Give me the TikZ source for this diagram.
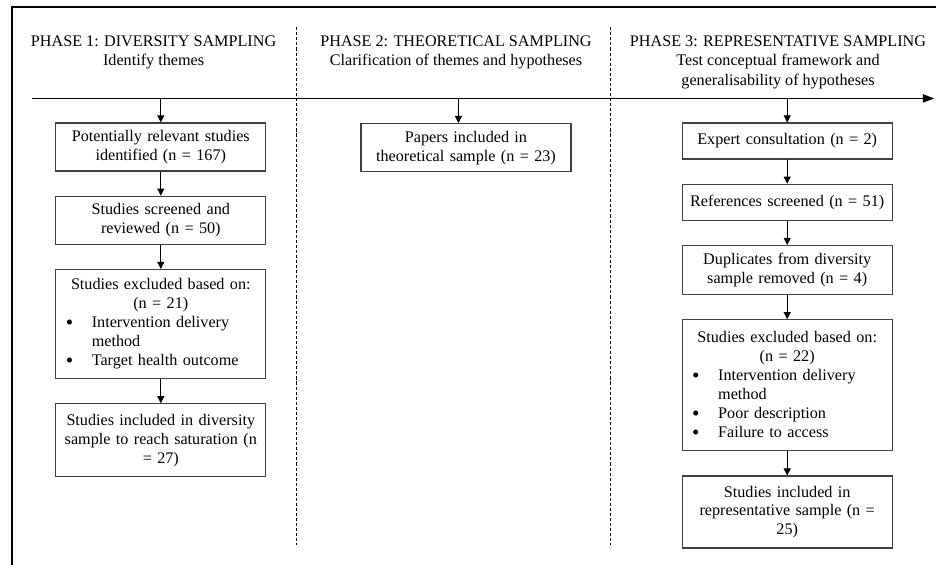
\documentclass[tikz,border=0pt]{standalone}
\usepackage{fontspec}
\setmainfont{Liberation Serif}
\usetikzlibrary{positioning,arrows.meta}

\newcommand{\bmark}{\makebox[0.75cm][l]{\hspace{0.1cm}\raisebox{-0.2ex}{\fontsize{15}{13.5}\selectfont\textbullet}}}
\newcommand{\bitem}[1]{\makebox[\hsize][l]{\bmark#1}}
\newcommand{\bcont}[1]{\makebox[\hsize][l]{\makebox[0.75cm]{}#1}}

\begin{document}
\begin{tikzpicture}[
  box/.style={
    draw=black!75, line width=0.9pt, rectangle,
    text width=4.95cm, minimum width=5.25cm,
    inner xsep=0.15cm, inner ysep=2pt,
    align=center, font=\fontsize{11.5}{13.5}\selectfont
  },
  hdr/.style={font=\fontsize{11.5}{14}\selectfont, align=center, anchor=north, inner sep=0pt},
  arr/.style={-{Triangle[length=5pt,width=5pt]}, line width=0.6pt},
  phasesep/.style={line width=0.7pt, dash pattern=on 2.2pt off 1.4pt},
  node distance=0.6cm
]

\useasboundingbox (0,0) rectangle (23.4,-14.1);
\draw[line width=2.1pt] (0.3,-14.2) -- (0.3,-0.175) -- (23.5,-0.175);

\def\tly{-2.46}

\coordinate (tl) at (0.8,\tly);
\coordinate (tr) at (23.35,\tly);
\coordinate (t1) at (4.02,\tly);
\coordinate (t2) at (11.46,\tly);
\coordinate (t3) at (19.68,\tly);

\draw[line width=0.8pt, -{Triangle[length=8pt,width=6pt]}] (tl) -- (tr);

\draw[phasesep] (7.42,-0.68) -- (7.42,-13.62);
\draw[phasesep] (15.27,-0.68) -- (15.27,-13.62);

\node[hdr] (ph1) at (3.84,-0.88)
  {PHASE 1: DIVERSITY SAMPLING\\Identify themes};
\node[hdr] (ph2) at (11.4,-0.88)
  {PHASE 2: THEORETICAL SAMPLING\\Clarification of themes and hypotheses};
\node[hdr] (ph3) at (19.45,-0.88)
  {PHASE 3: REPRESENTATIVE SAMPLING\\Test conceptual framework and\\generalisability of hypotheses};

\node[box, minimum height=1.2cm, below=0.6cm of t1] (ident)
  {Potentially relevant studies\\identified (n = 167)};
\node[box, minimum height=1.2cm, below=of ident] (screen)
  {Studies screened and\\reviewed (n = 50)};
\node[box, minimum height=2.725cm, below=of screen] (excl)
  {Studies excluded based on:\\(n = 21)\\\bitem{Intervention delivery}\\\bcont{method}\\\bitem{Target health outcome}};
\node[box, minimum height=1.825cm, below=of excl] (divsamp)
  {Studies included in diversity\\sample to reach saturation (n\\= 27)};

\node[box, minimum height=1.2cm, anchor=north] (theor) at (11.65,-3.075)
  {Papers included in\\theoretical sample (n = 23)};

\node[box, minimum height=0.9cm, below=0.6cm of t3] (expert)
  {Expert consultation (n = 2)};
\node[box, minimum height=0.9cm, below=of expert] (refs)
  {References screened (n = 51)};
\node[box, minimum height=1.225cm, below=of refs] (dups)
  {Duplicates from diversity\\sample removed (n = 4)};
\node[box, minimum height=3.275cm, below=of dups] (exclrep)
  {Studies excluded based on:\\(n = 22)\\\bitem{Intervention delivery}\\\bcont{method}\\\bitem{Poor description}\\\bitem{Failure to access}};
\node[box, minimum height=1.8cm, below=of exclrep] (repsamp)
  {Studies included in\\representative sample (n =\\25)};

\draw[arr] (t1) -- (ident);
\draw[arr] (ident) -- (screen);
\draw[arr] (screen) -- (excl);
\draw[arr] (excl) -- (divsamp);

\draw[arr] (t2) -- (t2 |- theor.north);

\draw[arr] (t3) -- (expert);
\draw[arr] (expert) -- (refs);
\draw[arr] (refs) -- (dups);
\draw[arr] (dups) -- (exclrep);
\draw[arr] (exclrep) -- (repsamp);

\end{tikzpicture}
\end{document}
